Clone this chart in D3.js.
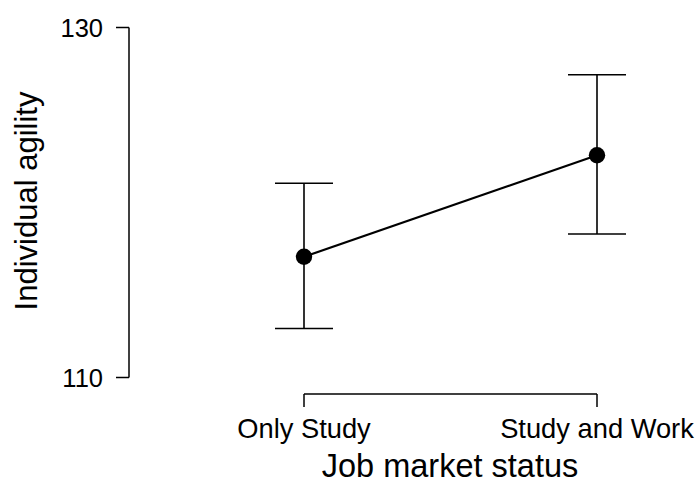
<!DOCTYPE html>
<html>
<head>
<meta charset="utf-8">
<script src="https://cdn.jsdelivr.net/npm/d3@7"></script>
<style>
  html, body { margin: 0; padding: 0; background: #fff; }
  svg { display: block; font-family: "Liberation Sans", Arial, Helvetica, sans-serif; }
</style>
</head>
<body>
<svg id="chart" width="696" height="488"></svg>
<script>
// Group means with their confidence limits
const categories = ["Only Study", "Study and Work"];
const means = [116.9, 122.7];
const lower = [112.8, 118.2];
const upper = [121.1, 127.3];
const yTicks = [110, 130];

const svg = d3.select("#chart");

const x = d3.scalePoint().domain(categories).range([304, 597]);
const y = d3.scaleLinear().domain([110, 130]).range([377.5, 27.5]);

const ink = "#000";

// Y axis: line with ticks only at the domain ends
const yAxis = svg.append("g").attr("transform", "translate(129,0)");
yAxis.append("line")
  .attr("x1", 0).attr("x2", 0)
  .attr("y1", y(130)).attr("y2", y(110))
  .attr("stroke", ink).attr("stroke-width", 1.5);
yAxis.selectAll("line.tick").data(yTicks).join("line")
  .attr("class", "tick")
  .attr("x1", -13).attr("x2", 0)
  .attr("y1", d => y(d)).attr("y2", d => y(d))
  .attr("stroke", ink).attr("stroke-width", 1.5);
yAxis.selectAll("text").data(yTicks).join("text")
  .attr("x", -26).attr("y", d => y(d))
  .attr("dy", "0.36em")
  .attr("text-anchor", "end")
  .attr("font-size", 25.5)
  .attr("fill", ink)
  .text(d => d);

// X axis: bracket spanning the two groups
const xAxis = svg.append("g").attr("transform", "translate(0,394)");
xAxis.append("line")
  .attr("x1", x(categories[0])).attr("x2", x(categories[1]))
  .attr("y1", 0).attr("y2", 0)
  .attr("stroke", ink).attr("stroke-width", 1.5);
xAxis.selectAll("line.tick").data(categories).join("line")
  .attr("class", "tick")
  .attr("x1", d => x(d)).attr("x2", d => x(d))
  .attr("y1", 0).attr("y2", 13)
  .attr("stroke", ink).attr("stroke-width", 1.5);
xAxis.selectAll("text").data(categories).join("text")
  .attr("x", d => x(d)).attr("y", 43.7)
  .attr("text-anchor", "middle")
  .attr("font-size", 27.3)
  .attr("fill", ink)
  .text(d => d);

// Axis titles
svg.append("text")
  .attr("x", 450).attr("y", 477)
  .attr("text-anchor", "middle")
  .attr("font-size", 32.5)
  .attr("fill", ink)
  .text("Job market status");

svg.append("text")
  .attr("transform", "translate(37,201) rotate(-90)")
  .attr("text-anchor", "middle")
  .attr("font-size", 31)
  .attr("fill", ink)
  .text("Individual agility");

// Error bars
const capHalf = 29;
const bars = svg.append("g").selectAll("g").data(categories).join("g");
bars.append("line")
  .attr("x1", d => x(d)).attr("x2", d => x(d))
  .attr("y1", (d, i) => y(upper[i])).attr("y2", (d, i) => y(lower[i]))
  .attr("stroke", ink).attr("stroke-width", 1.6);
bars.append("line")
  .attr("x1", d => x(d) - capHalf).attr("x2", d => x(d) + capHalf)
  .attr("y1", (d, i) => y(upper[i])).attr("y2", (d, i) => y(upper[i]))
  .attr("stroke", ink).attr("stroke-width", 1.6);
bars.append("line")
  .attr("x1", d => x(d) - capHalf).attr("x2", d => x(d) + capHalf)
  .attr("y1", (d, i) => y(lower[i])).attr("y2", (d, i) => y(lower[i]))
  .attr("stroke", ink).attr("stroke-width", 1.6);

// Line joining the means
const line = d3.line().x(d => x(d.cat)).y(d => y(d.mean));
svg.append("path")
  .datum(categories.map((c, i) => ({ cat: c, mean: means[i] })))
  .attr("d", line)
  .attr("fill", "none")
  .attr("stroke", ink)
  .attr("stroke-width", 2.2);

// Mean points
svg.append("g").selectAll("circle").data(categories).join("circle")
  .attr("cx", d => x(d)).attr("cy", (d, i) => y(means[i]))
  .attr("r", 8.2)
  .attr("fill", ink);
</script>
</body>
</html>
